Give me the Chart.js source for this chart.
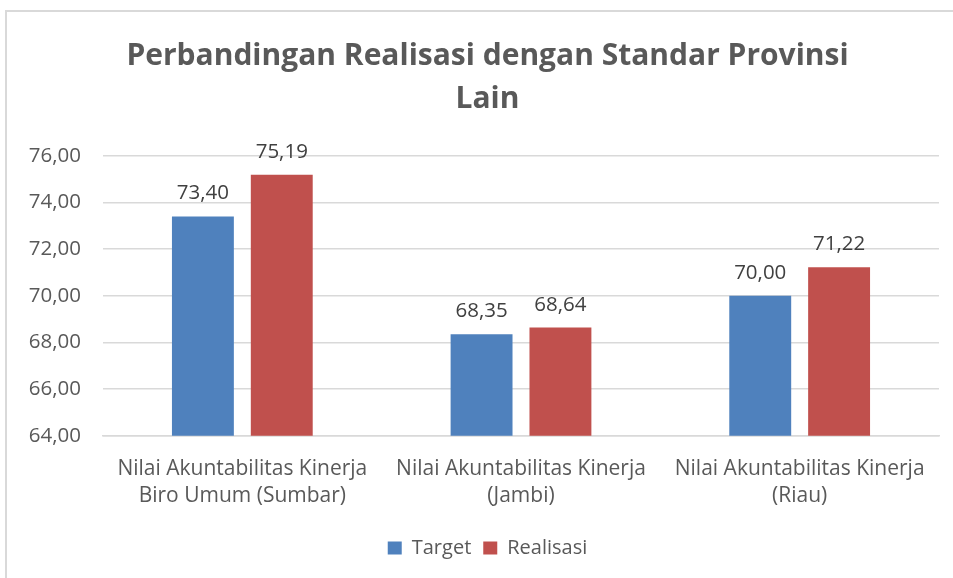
<!DOCTYPE html>
<html>
<head>
<meta charset="utf-8">
<script src="https://cdn.jsdelivr.net/npm/chart.js@4"></script>
<style>
  html, body { margin: 0; padding: 0; background: #fff; overflow: hidden; }
  #box { position: absolute; left: 5px; top: 10px; width: 1000px; height: 700px; border: 2px solid #d9d9d9; }
  #wrap { position: absolute; left: 0; top: 0; width: 975px; height: 578px; }
</style>
</head>
<body>
<div id="box"></div>
<div id="wrap"><canvas id="myChart"></canvas></div>
<script>
// data grafik
const categories = [
  ["Nilai Akuntabilitas Kinerja", "Biro Umum (Sumbar)"],
  ["Nilai Akuntabilitas Kinerja", "(Jambi)"],
  ["Nilai Akuntabilitas Kinerja", "(Riau)"]
];
const target = [73.40, 68.35, 70.00];
const realisasi = [75.19, 68.64, 71.22];
const yTicks = [64, 66, 68, 70, 72, 74, 76];

const FONT = "'Open Sans'";
const fmt = (v) => v.toFixed(2).replace(".", ",");

// label nilai di atas batang
const barLabels = {
  id: "barLabels",
  afterDatasetsDraw(chart) {
    const c = chart.ctx;
    c.save();
    c.font = "20.5px " + FONT;
    c.fillStyle = "#404040";
    c.textAlign = "center";
    c.textBaseline = "alphabetic";
    chart.data.datasets.forEach((ds, i) => {
      chart.getDatasetMeta(i).data.forEach((bar, j) => {
        c.fillText(fmt(ds.data[j]), bar.x, bar.y - 17);
      });
    });
    c.restore();
  }
};

const ctx = document.getElementById("myChart");
new Chart(ctx, {
  type: "bar",
  data: {
    labels: categories,
    datasets: [
      {
        label: "Target",
        data: target,
        backgroundColor: "#4F81BD",
        categoryPercentage: 0.566,
        barPercentage: 0.785
      },
      {
        label: "Realisasi",
        data: realisasi,
        backgroundColor: "#C0504D",
        categoryPercentage: 0.566,
        barPercentage: 0.785
      }
    ]
  },
  options: {
    responsive: true,
    maintainAspectRatio: false,
    animation: false,
    layout: { padding: { left: 0, right: 0, top: 0, bottom: 10 } },
    plugins: {
      title: {
        display: true,
        text: ["Perbandingan Realisasi dengan Standar Provinsi", "Lain"],
        color: "#595959",
        font: { family: FONT, size: 30, weight: "bold", lineHeight: 1.43 },
        padding: { top: 35, bottom: 35 }
      },
      legend: {
        position: "bottom",
        labels: {
          color: "#595959",
          font: { family: FONT, size: 20 },
          boxWidth: 14,
          boxHeight: 13,
          padding: 12
        }
      },
      tooltip: { enabled: false }
    },
    scales: {
      x: {
        grid: { display: false },
        border: { color: "#d9d9d9", width: 1.5 },
        afterFit: (scale) => {
          scale.height += 4;
        },
        ticks: {
          color: "#595959",
          font: { family: FONT, size: 21, lineHeight: 1.29 },
          padding: 12,
          maxRotation: 0
        }
      },
      y: {
        min: 64,
        max: 76,
        afterBuildTicks: (scale) => {
          scale.ticks = yTicks.map((v) => ({ value: v }));
        },
        afterFit: (scale) => {
          scale.width = 103;
        },
        grid: { color: "#d9d9d9", lineWidth: 1.5, drawTicks: false },
        border: { display: false },
        ticks: {
          color: "#595959",
          font: { family: FONT, size: 20.5 },
          padding: 22,
          callback: (v) => fmt(v)
        }
      },
      // sumbu kosong di kanan, hanya untuk ruang
      y2: {
        position: "right",
        min: 64,
        max: 76,
        afterFit: (scale) => {
          scale.width = 36;
        },
        grid: { display: false },
        border: { display: false },
        ticks: { display: false }
      }
    }
  },
  plugins: [barLabels]
});
</script>
</body>
</html>
